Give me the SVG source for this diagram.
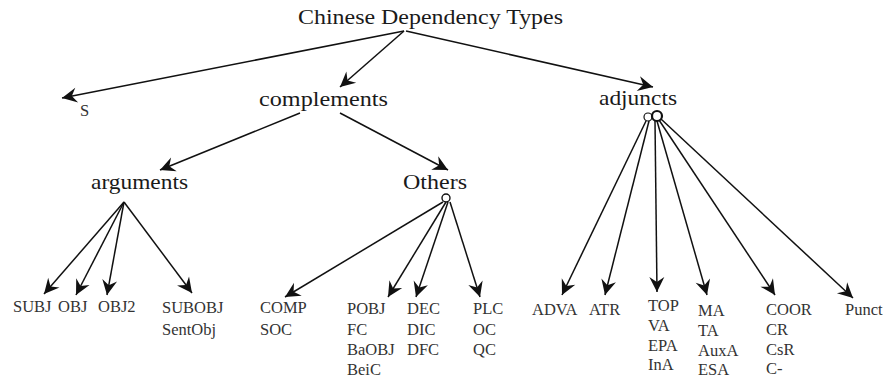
<svg xmlns="http://www.w3.org/2000/svg" width="888" height="382" viewBox="0 0 888 382" font-family="'Liberation Serif', 'Times New Roman', Times, serif">
<defs>
<marker id="ah" markerUnits="userSpaceOnUse" markerWidth="20" markerHeight="18" viewBox="-17 -9 19 18" refX="0" refY="0" orient="auto">
<path d="M0,0 L-15,-7.5 L-10,0 L-15,7.5 Z" fill="#111"/>
</marker>
</defs>
<style>
text{font-family:'Liberation Serif','Times New Roman',Times,serif;fill:#1a1a1a}
.big{font-size:22px}
.leaf{font-size:16.5px;fill:#333}
.a{stroke:#111;stroke-width:1.5;fill:none;marker-end:url(#ah)}
</style>
<rect width="888" height="382" fill="#fff"/>
<g id="root"><text class="big" x="298" y="24" textLength="265" lengthAdjust="spacingAndGlyphs">Chinese Dependency Types</text></g>
<g id="S"><text class="leaf" x="80" y="116">S</text></g>
<g id="complements"><text class="big" x="259" y="106" textLength="129" lengthAdjust="spacingAndGlyphs">complements</text></g>
<g id="adjuncts"><text class="big" x="599" y="105" textLength="78" lengthAdjust="spacingAndGlyphs">adjuncts</text>
<circle cx="648" cy="117" r="4" fill="none" stroke="#111" stroke-width="1.2"/>
<circle cx="657" cy="116" r="5" fill="none" stroke="#111" stroke-width="2.2"/></g>
<g id="arguments"><text class="big" x="91" y="189" textLength="97" lengthAdjust="spacingAndGlyphs">arguments</text></g>
<g id="Others"><text class="big" x="403" y="189" textLength="64" lengthAdjust="spacingAndGlyphs">Others</text>
<circle cx="446" cy="198" r="4" fill="none" stroke="#111" stroke-width="1.4"/></g>
<g id="SUBJ"><text class="leaf" x="13" y="312">SUBJ</text></g>
<g id="OBJ"><text class="leaf" x="58" y="312">OBJ</text></g>
<g id="OBJ2"><text class="leaf" x="98" y="312">OBJ2</text></g>
<g id="SUBOBJ"><text class="leaf" x="162" y="313">SUBOBJ</text><text class="leaf" x="162" y="335">SentObj</text></g>
<g id="COMP"><text class="leaf" x="260" y="313">COMP</text><text class="leaf" x="260" y="335">SOC</text></g>
<g id="POBJ"><text class="leaf" x="347" y="314">POBJ</text><text class="leaf" x="347" y="335">FC</text><text class="leaf" x="347" y="355">BaOBJ</text><text class="leaf" x="347" y="375">BeiC</text></g>
<g id="DEC"><text class="leaf" x="407" y="314">DEC</text><text class="leaf" x="407" y="335">DIC</text><text class="leaf" x="407" y="355">DFC</text></g>
<g id="PLC"><text class="leaf" x="473" y="314">PLC</text><text class="leaf" x="473" y="335">OC</text><text class="leaf" x="473" y="355">QC</text></g>
<g id="ADVA"><text class="leaf" x="532" y="315">ADVA</text></g>
<g id="ATR"><text class="leaf" x="589" y="315">ATR</text></g>
<g id="TOP"><text class="leaf" x="648" y="311">TOP</text><text class="leaf" x="648" y="331">VA</text><text class="leaf" x="648" y="351">EPA</text><text class="leaf" x="648" y="370">InA</text></g>
<g id="MA"><text class="leaf" x="698" y="316">MA</text><text class="leaf" x="698" y="336">TA</text><text class="leaf" x="698" y="356">AuxA</text><text class="leaf" x="698" y="375">ESA</text></g>
<g id="COOR"><text class="leaf" x="766" y="315">COOR</text><text class="leaf" x="766" y="335">CR</text><text class="leaf" x="766" y="355">CsR</text><text class="leaf" x="766" y="374">C-</text></g>
<g id="Punct"><text class="leaf" x="845" y="315">Punct</text></g>
<g id="connectors">
<line class="a" x1="404" y1="31" x2="62" y2="98"/>
<line class="a" x1="404" y1="31" x2="340" y2="87"/>
<line class="a" x1="406" y1="31" x2="653" y2="87"/>
<line class="a" x1="300" y1="113" x2="160" y2="170"/>
<line class="a" x1="340" y1="113" x2="448" y2="170"/>
<line class="a" x1="124" y1="202" x2="44" y2="294"/>
<line class="a" x1="124" y1="202" x2="76" y2="295"/>
<line class="a" x1="124" y1="202" x2="107" y2="295"/>
<line class="a" x1="124" y1="202" x2="192" y2="293"/>
<line class="a" x1="443" y1="202" x2="285" y2="297"/>
<line class="a" x1="446" y1="202" x2="388" y2="297"/>
<line class="a" x1="448" y1="202" x2="416" y2="297"/>
<line class="a" x1="450" y1="202" x2="480" y2="297"/>
<line class="a" x1="646" y1="121" x2="562" y2="295"/>
<line class="a" x1="649" y1="121" x2="605" y2="295"/>
<line class="a" x1="655" y1="121" x2="657" y2="292"/>
<line class="a" x1="657" y1="121" x2="707" y2="295"/>
<line class="a" x1="659" y1="120" x2="775" y2="295"/>
<line class="a" x1="661" y1="119" x2="853" y2="298"/>
</g>
</svg>
